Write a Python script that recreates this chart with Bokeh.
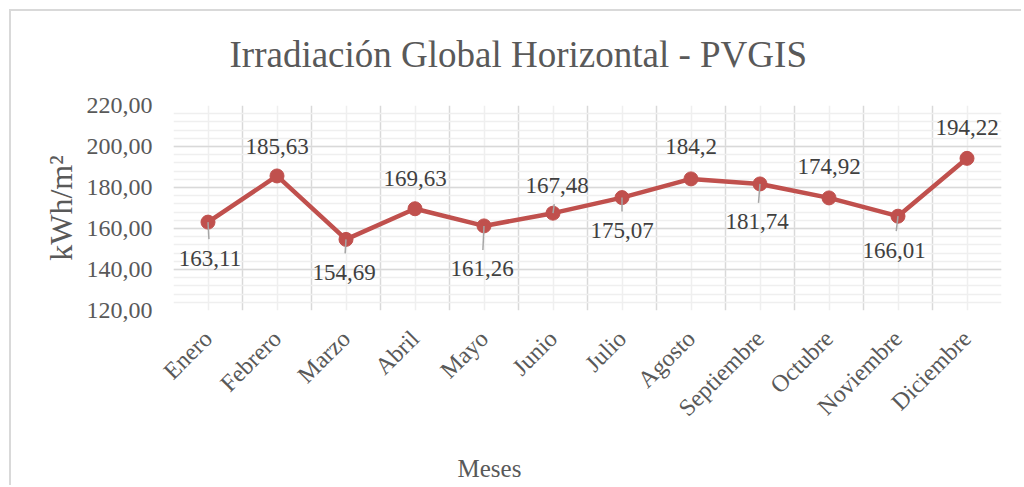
import math
from bokeh.plotting import figure
from bokeh.models import Range1d, FixedTicker, ColumnDataSource, Title
from bokeh.core.properties import value
from bokeh.embed import file_html
from bokeh.resources import INLINE

# ---- data ----
months = ["Enero", "Febrero", "Marzo", "Abril", "Mayo", "Junio", "Julio",
          "Agosto", "Septiembre", "Octubre", "Noviembre", "Diciembre"]
irradiation = [163.11, 185.63, 154.69, 169.63, 161.26, 167.48, 175.07,
               184.2, 181.74, 174.92, 166.01, 194.22]
y_ticks = [120, 140, 160, 180, 200, 220]
y_tick_labels = ["120,00", "140,00", "160,00", "180,00", "200,00", "220,00"]
y_minor_step = 4
title_text = "Irradiación Global Horizontal - PVGIS"
x_title = "Meses"
y_title = "kWh/m²"

# ---- style: data-label offsets in screen px (down positive) ----
label_dx = [2, 0, -2, 0, -2, 4, 0, 0, -3, 0, -4, 0]
label_dy = [36, -29, 33, -30, 43, -28, 33, -32, 38, -31, 34, -31]
leader_idx = [0, 2, 4, 5, 6, 8, 10]

FONT = "Liberation Serif"
W, H = 1012, 476
ML, MR, MT, MB = 162, 22, 94, 177
FW, FH = W - ML - MR, H - MT - MB

x = list(range(len(months)))
x_lo, x_hi = -0.5, len(months) - 0.5
y_lo, y_hi = y_ticks[0], y_ticks[-1]

p = figure(width=W, height=H, output_backend="svg", toolbar_location=None,
           x_range=Range1d(x_lo, x_hi), y_range=Range1d(y_lo, y_hi),
           min_border_left=ML, min_border_right=MR,
           min_border_top=MT, min_border_bottom=MB)
p.styles = {"margin-left": "9px", "margin-top": "9px",
            "border-left": "2px solid #d9d9d9", "border-top": "2px solid #d9d9d9"}
p.outline_line_color = None
p.background_fill_color = "white"
p.border_fill_color = "white"

# grids
p.ygrid.ticker = FixedTicker(ticks=y_ticks,
                             minor_ticks=list(range(y_lo, y_hi + 1, y_minor_step)))
p.ygrid.grid_line_color = "#d9d9d9"
p.ygrid.grid_line_width = 1.5
p.ygrid.minor_grid_line_color = "#efefef"
p.ygrid.minor_grid_line_width = 1.5
p.xgrid.ticker = FixedTicker(ticks=[i - 0.5 for i in range(len(months) + 1)],
                             minor_ticks=x)
p.xgrid.grid_line_color = "#d9d9d9"
p.xgrid.grid_line_width = 1.5
p.xgrid.minor_grid_line_color = "#efefef"
p.xgrid.minor_grid_line_width = 1.5

# axes
for ax in (p.xaxis[0], p.yaxis[0]):
    ax.axis_line_color = None
    ax.major_tick_line_color = None
    ax.minor_tick_line_color = None
    ax.major_label_text_font = FONT
    ax.major_label_text_color = "#595959"
    ax.major_label_text_font_size = "24px"

p.yaxis.ticker = FixedTicker(ticks=y_ticks)
p.yaxis.major_label_overrides = {t: l for t, l in zip(y_ticks, y_tick_labels)}
p.yaxis.major_label_standoff = 15
p.yaxis.axis_label = y_title
p.yaxis.axis_label_text_font = FONT
p.yaxis.axis_label_text_font_style = "normal"
p.yaxis.axis_label_text_font_size = "32px"
p.yaxis.axis_label_text_color = "#595959"
p.yaxis.axis_label_standoff = 5

p.xaxis.ticker = FixedTicker(ticks=x)
p.xaxis.major_label_overrides = {i: m for i, m in enumerate(months)}
p.xaxis.major_label_orientation = math.pi / 4
p.xaxis.major_label_standoff = 18

# series
src = ColumnDataSource(dict(x=x, y=irradiation,
                            lbl=[f"{v:g}".replace(".", ",") for v in irradiation],
                            dx=label_dx, dy=label_dy))
p.line("x", "y", source=src, line_color="#c0504d", line_width=4.5)
p.scatter("x", "y", source=src, size=14, fill_color="#c0504d", line_color="#c0504d")

# leader lines (converted from px offsets to data units)
px_x = (x_hi - x_lo) / FW
px_y = (y_hi - y_lo) / FH
lx0, ly0, lx1, ly1 = [], [], [], []
for i in leader_idx:
    dy = label_dy[i]
    end_dy = dy - math.copysign(19, dy)
    end_dx = label_dx[i] * end_dy / dy
    lx0.append(x[i]); ly0.append(irradiation[i])
    lx1.append(x[i] + end_dx * px_x); ly1.append(irradiation[i] - end_dy * px_y)
p.segment(lx0, ly0, lx1, ly1, line_color="#a6a6a6", line_width=1.5)

p.text("x", "y", text="lbl", source=src, x_offset="dx", y_offset="dy",
       text_align="center", text_baseline="middle",
       text_font=value(FONT), text_font_size="23px", text_color="#404040")

# chart title and x-axis title
p.add_layout(Title(text=title_text, align="left", offset=56, standoff=0,
                   padding=dict(left=0, right=0, top=0, bottom=31),
                   text_font=FONT, text_font_style="normal", text_font_size="37px",
                   text_color="#595959"), "above")
p.add_layout(Title(text=x_title, align="left", offset=284, standoff=0,
                   padding=dict(left=0, right=0, top=19, bottom=0),
                   text_font=FONT, text_font_style="normal", text_font_size="25px",
                   text_color="#595959"), "below")

open("out.html", "w").write(file_html(p, INLINE))
